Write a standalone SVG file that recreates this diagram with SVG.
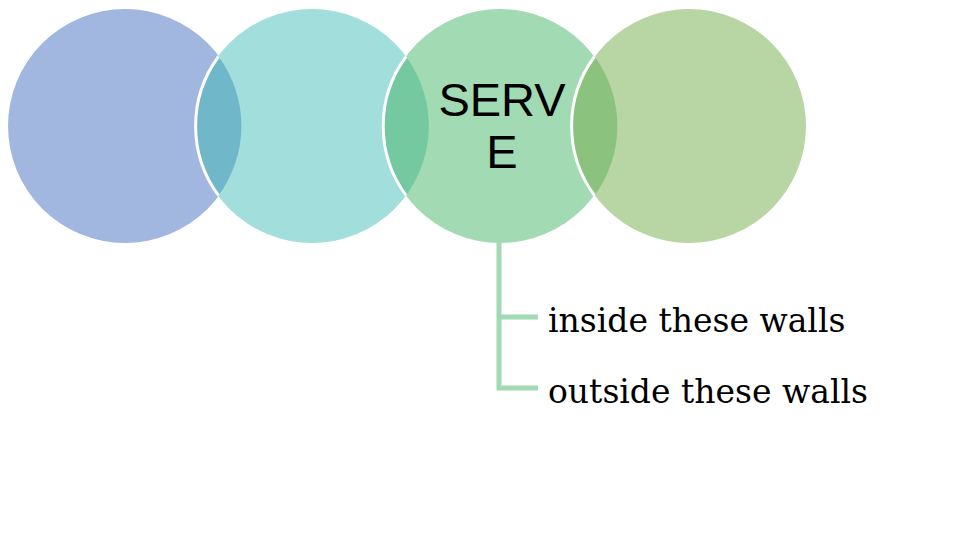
<svg xmlns="http://www.w3.org/2000/svg" width="960" height="540" viewBox="0 0 960 540">
<style>
.edge{fill:none;stroke:#FFFFFF;stroke-width:3}
.tree{fill:none;stroke:#A2DAB3;stroke-width:5}
.lbl{font-family:"DejaVu Serif","Liberation Serif",serif;font-size:33px;fill:#000}
.title{font-family:"Liberation Sans",Arial,sans-serif;font-size:47px;fill:#000;text-anchor:middle}
</style>
<rect width="960" height="540" fill="#FFFFFF"/>
<g id="circle1"><circle cx="125" cy="126" r="117" fill="#A1B7DF"/></g>
<g id="circle2"><circle cx="312" cy="126" r="117" fill="#A2DEDC"/></g>
<g id="circle3"><circle cx="500" cy="126" r="117" fill="#A2DAB3"/></g>
<g id="circle4"><circle cx="689" cy="126" r="117" fill="#B8D6A3"/></g>
<g id="overlaps">
<path d="M218.5,56.5 A117,117 0 0,1 218.5,195.5 A117,117 0 0,1 218.5,56.5 Z" fill="#70B8C9"/>
<path class="edge" d="M218.5,56.5 A117,117 0 0,0 218.5,195.5"/>
<path d="M406,56.6 A117,117 0 0,1 406,195.4 A117,117 0 0,1 406,56.6 Z" fill="#74C9A0"/>
<path class="edge" d="M406,56.6 A117,117 0 0,0 406,195.4"/>
<path d="M594.5,56.5 A117,117 0 0,1 594.5,195.5 A117,117 0 0,1 594.5,56.5 Z" fill="#8BC27D"/>
<path class="edge" d="M594.5,56.5 A117,117 0 0,0 594.5,195.5"/>
</g>
<g id="serve-label">
<text class="title" x="502" y="116">SERV</text>
<text class="title" x="502" y="168">E</text>
</g>
<g id="connectors">
<path class="tree" d="M499,243 V388 H538"/>
<path class="tree" d="M499,317 H538"/>
</g>
<g id="item1"><text class="lbl" x="548" y="332">inside these walls</text></g>
<g id="item2"><text class="lbl" x="548" y="403">outside these walls</text></g>
</svg>
